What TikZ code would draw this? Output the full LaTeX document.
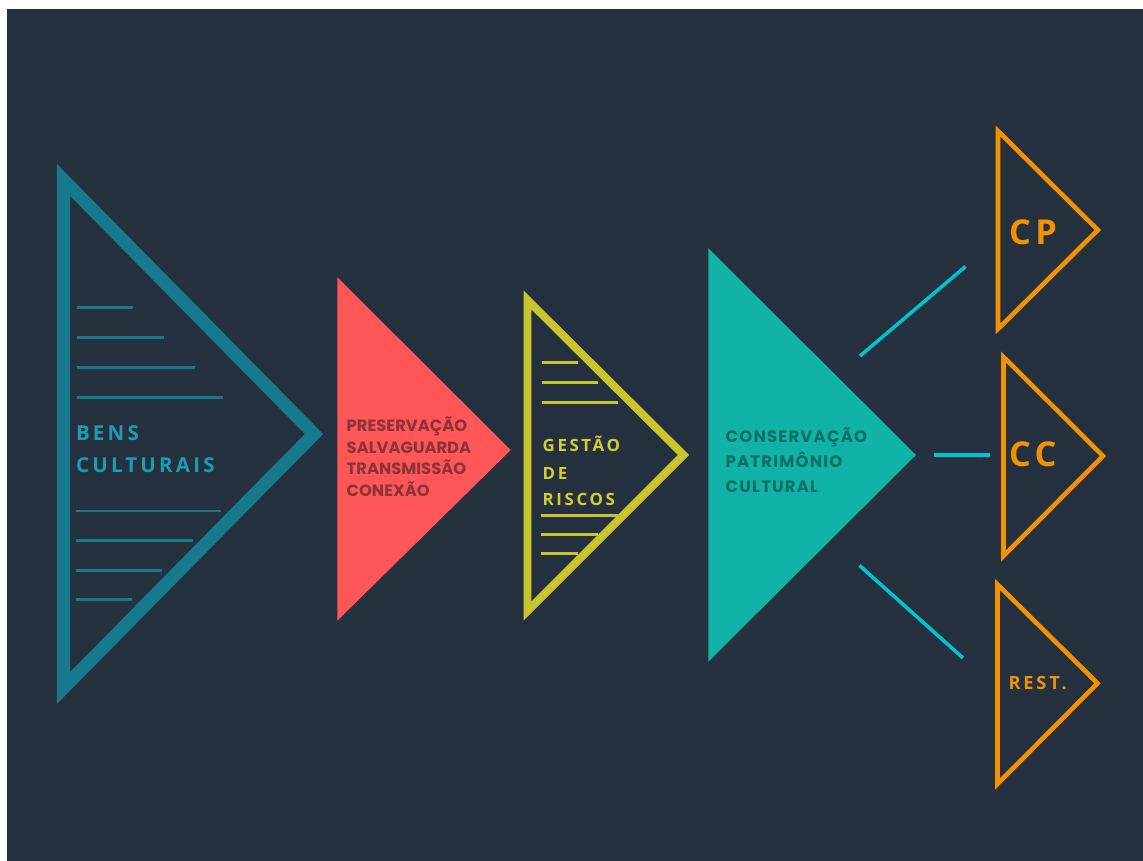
\documentclass[tikz,border=0pt]{standalone}
\usepackage{fontspec}
\newfontfamily\labfont[LetterSpace=15.5]{Open Sans}
\newfontfamily\bigfont[LetterSpace=13]{Open Sans}
\newfontfamily\popfont[LetterSpace=0]{Poppins}
\newfontfamily\popwide[LetterSpace=7]{Poppins}
\definecolor{bg}{HTML}{25313F}
\definecolor{tealline}{HTML}{167A8C}
\definecolor{tealtext}{HTML}{1B9DB3}
\definecolor{redfill}{HTML}{FF5757}
\definecolor{redtext}{HTML}{8A3339}
\definecolor{yel}{HTML}{C8C42E}
\definecolor{yeltext}{HTML}{D4CF2E}
\definecolor{greenfill}{HTML}{10B3A5}
\definecolor{greentext}{HTML}{0F6E66}
\definecolor{cyanline}{HTML}{00C4D0}
\definecolor{orng}{HTML}{F39200}
\tikzset{
  lab/.style={anchor=base west, inner sep=0pt, outer sep=0pt},
  bigtri/.style={draw=tealline, line width=7.4pt, line join=miter},
  yeltri/.style={draw=yel, line width=4.5pt, line join=miter},
  orgtri/.style={draw=orng, line width=2.6pt, line join=miter},
  tealrule/.style={draw=tealline, line width=1.7pt},
  yelrule/.style={draw=yel, line width=1.6pt},
  link/.style={draw=cyanline, line width=2pt},
  redlab/.style={lab, text=redtext, font=\popfont\bfseries\fontsize{9.3}{11}\selectfont},
  greenlab/.style={lab, text=greentext, font=\popwide\bfseries\fontsize{9.4}{11}\selectfont},
  bluelab/.style={lab, text=tealtext, font=\labfont\bfseries\fontsize{11.7}{14}\selectfont},
  yellab/.style={lab, text=yeltext, font=\labfont\bfseries\fontsize{9.6}{12}\selectfont},
  orglab/.style={lab, text=orng, font=\bigfont\bfseries\fontsize{19.5}{22}\selectfont},
}
\begin{document}
\begin{tikzpicture}[x=0.02cm, y=-0.02cm]
\useasboundingbox (0,0) rectangle (1143,861);
\fill[white] (0,0) rectangle (1143,861);
\fill[bg] (7,9) rectangle (1143,861);

% big teal outline triangle
\draw[bigtri] (63.5,180) -- (314,434) -- (63.5,688) -- cycle;
\foreach \y/\x in {307.7/133, 337.7/164, 367.3/195, 397.7/223}
  \draw[tealrule] (77,\y) -- (\x,\y);
\foreach \y/\x in {511/221, 540.7/193, 570.3/162, 599.7/132}
  \draw[tealrule] (75.5,\y) -- (\x,\y);
\node[bluelab] (bens) at (76,440.7) {BENS};
\node[bluelab] (cult) at (76,472.7) {CULTURAIS};

% red filled triangle
\fill[redfill] (337.3,277.3) -- (510.7,450) -- (337.3,620.7) -- cycle;
\node[redlab] (pres) at (346.7,431.7) {PRESERVAÇÃO};
\node[redlab] (salv) at (346.7,453.3) {SALVAGUARDA};
\node[redlab] (trans) at (346.7,475) {TRANSMISSÃO};
\node[redlab] (conx) at (346.7,496.7) {CONEXÃO};

% yellow outline triangle
\draw[yeltri] (527.5,300) -- (683.5,455) -- (527.5,611) -- cycle;
\foreach \y/\x in {362.3/578, 382.7/598, 402.3/618}
  \draw[yelrule] (541.7,\y) -- (\x,\y);
\foreach \y/\x in {515.3/618, 534.3/598, 553.7/578}
  \draw[yelrule] (540.7,\y) -- (\x,\y);
\node[yellab] (gest) at (542.7,451.7) {GESTÃO};
\node[yellab] (de) at (542.7,479.3) {DE};
\node[yellab] (risc) at (542.7,505) {RISCOS};

% green filled triangle
\fill[greenfill] (708.3,248.3) -- (916,455) -- (708.3,661.7) -- cycle;
\node[greenlab] (cons) at (725.7,442.7) {CONSERVAÇÃO};
\node[greenlab] (patr) at (725.7,467.7) {PATRIMÔNIO};
\node[greenlab] (cultl) at (725.7,492.3) {CULTURAL};

% connectors
\coordinate (u1) at (860,356);
\coordinate (u2) at (965.5,266.5);
\coordinate (m1) at (934,455);
\coordinate (m2) at (989.5,455);
\coordinate (d1) at (859.5,565.5);
\coordinate (d2) at (963,658);
\draw[link] (u1) -- (u2);
\draw[link] (m1) -- (m2);
\draw[link] (d1) -- (d2);

% orange triangles
\draw[orgtri] (998,131) -- (1097.8,230) -- (998,329) -- cycle;
\node[orglab] (cp) at (1009,245) {CP};
\draw[orgtri] (1003.5,357) -- (1103,456) -- (1003.5,556) -- cycle;
\node[orglab] (cc) at (1009,466) {CC};
\draw[orgtri] (997.5,584.5) -- (1097.5,683.3) -- (997.5,784) -- cycle;
\node[lab, text=orng, font=\labfont\bfseries\fontsize{10.4}{12}\selectfont] (rest) at (1008.5,689.3) {REST.};
\end{tikzpicture}
\end{document}
